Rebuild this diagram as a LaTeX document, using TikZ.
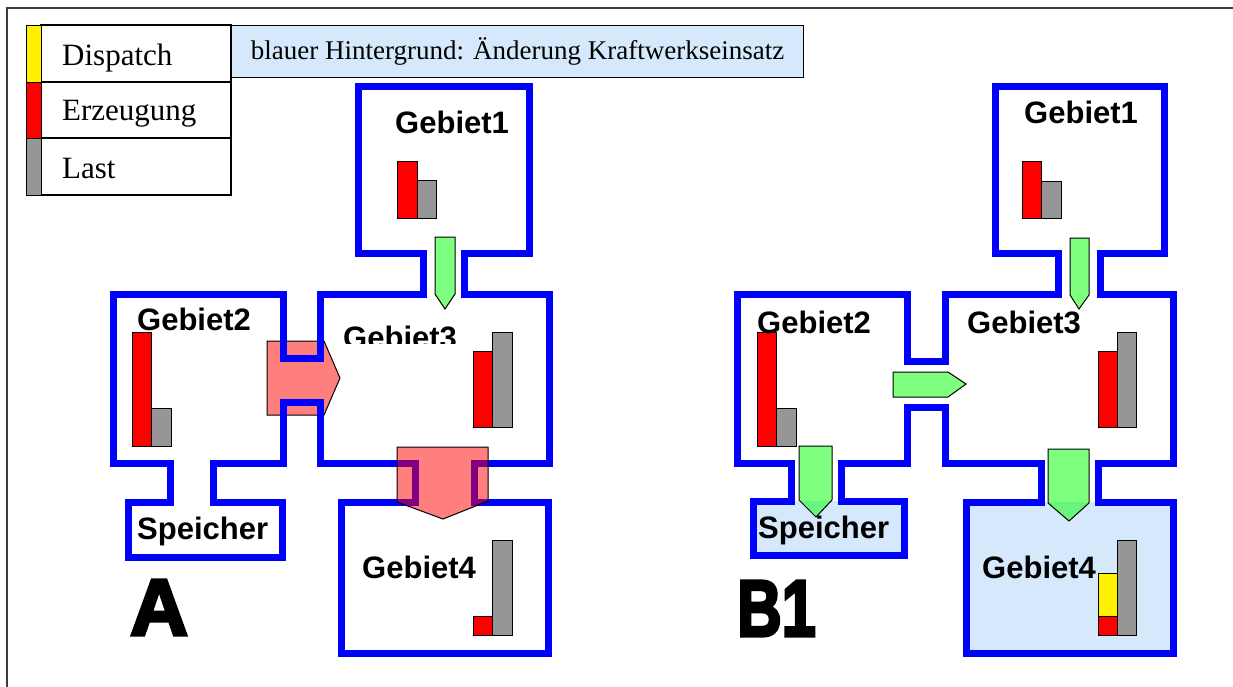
\documentclass[tikz,border=0pt]{standalone}
\usepackage{fontspec}
\usepackage{graphicx}
\setmainfont{Liberation Serif}
\setsansfont{Liberation Sans}
\newfontfamily\heavyfont[FakeBold=4]{Liberation Sans Bold}
\definecolor{zonecol}{RGB}{0, 0, 255}
\definecolor{hintcol}{RGB}{214, 232, 252}
\definecolor{loadcol}{RGB}{150, 150, 150}
\definecolor{framecol}{RGB}{60, 60, 60}
\tikzset{
  zone/.style    = {draw=zonecol, line width=7pt, line join=miter},
  changed/.style = {fill=hintcol},
  bar/.style     = {draw=black, line width=1pt},
  gen/.style     = {bar, fill=red},
  load/.style    = {bar, fill=loadcol},
  disp/.style    = {bar, fill=yellow},
  okflow/.style  = {draw=black, line width=1pt, fill=green, fill opacity=0.5},
  badflow/.style = {draw=black, line width=1pt, fill=red, fill opacity=0.5},
  zname/.style   = {font=\sffamily\bfseries\fontsize{31}{31}\selectfont,
                    inner sep=0pt, anchor=base west},
  legtxt/.style  = {font=\fontsize{31}{31}\selectfont, inner sep=0pt,
                    anchor=base west},
  legrow/.style  = {draw=black, line width=1.2pt},
  hint/.style    = {draw=black, line width=1.2pt, fill=hintcol,
                    font=\fontsize{27}{27}\selectfont, inner sep=0pt},
  casetag/.style = {font=\heavyfont\fontsize{80}{80}\selectfont,
                    inner sep=0pt, anchor=base west},
}

\begin{document}
\begin{tikzpicture}[x=1pt, y=-1pt]
  \useasboundingbox (0,0) rectangle (1233,686);
  \draw[draw=framecol, line width=1.5pt] (7,8) rectangle (1260,710);

  %% ---------------- legend ----------------
  \draw[legrow] (41,25) rectangle (231,82);
  \draw[legrow] (41,82) rectangle (231,138);
  \draw[legrow] (41,138) rectangle (231,195);
  \draw[disp] (26,25) rectangle (41,82);
  \draw[gen]  (26,82) rectangle (41,138);
  \draw[load] (26,138) rectangle (41,195);
  \node[legtxt] (ldisp) at (62,65)  {Dispatch};
  \node[legtxt] (lgen)  at (62,120) {Erzeugung};
  \node[legtxt] (lload) at (62,178) {Last};

  \node[hint, anchor=north west, minimum width=572pt, minimum height=52pt]
       (note) at (231,25) {blauer Hintergrund: Änderung Kraftwerkseinsatz};

  %% ---------------- case A ----------------
  \draw[badflow] (267,341) -- (324,341) -- (340,378) -- (324,415)
                 -- (267,415) -- cycle;

  \draw[zone] (113,294) -- (283,294) -- (283,358) -- (320,358) -- (320,294)
    -- (423,294) -- (423,253) -- (358,253) -- (358,86) -- (529,86)
    -- (529,253) -- (464,253) -- (464,294) -- (549,294) -- (549,463)
    -- (474,463) -- (474,502) -- (548,502) -- (548,653) -- (341,653)
    -- (341,502) -- (415,502) -- (415,463) -- (320,463) -- (320,402)
    -- (283,402) -- (283,463) -- (213,463) -- (213,502) -- (282,502)
    -- (282,557) -- (128,557) -- (128,502) -- (170,502) -- (170,463)
    -- (113,463) -- cycle;

  % bars: Erzeugung left, Last right
  \draw[gen]  (397,161) rectangle (417,218);
  \draw[load] (417,180) rectangle (436,218);
  \draw[gen]  (132,332) rectangle (151,446);
  \draw[load] (151,408) rectangle (171,446);
  \draw[gen]  (473,351) rectangle (492,427);
  \draw[load] (492,332) rectangle (512,427);
  \draw[gen]  (473,616) rectangle (492,635);
  \draw[load] (492,540) rectangle (512,635);

  \node[zname] (a1) at (395,133) {Gebiet1};
  \node[zname] (a2) at (137,330) {Gebiet2};
  \begin{scope}
    \clip (330,300) rectangle (470,343);
    \node[zname] (a3) at (343,348) {Gebiet3};
  \end{scope}
  \node[zname] (a4) at (362,578) {Gebiet4};
  \node[zname] (as) at (137,539) {Speicher};

  \draw[badflow] (397,447) -- (488,447) -- (488,501) -- (443,519)
                 -- (397,502) -- cycle;
  \draw[okflow] (435,237) -- (455,237) -- (455,294) -- (445,309)
                -- (435,294) -- cycle;

  \node[casetag] (tagA) at (130,635) {A};

  %% ---------------- case B1 ----------------
  \fill[changed] (753,501) rectangle (904,555);
  \fill[changed] (966,502) rectangle (1173,653);

  \draw[zone] (737,294) -- (907,294) -- (907,361) -- (945,361) -- (945,294)
    -- (1058,294) -- (1058,253) -- (995,253) -- (995,86) -- (1164,86)
    -- (1164,253) -- (1100,253) -- (1100,294) -- (1173,294) -- (1173,463)
    -- (1098,463) -- (1098,502) -- (1173,502) -- (1173,653) -- (966,653)
    -- (966,502) -- (1041,502) -- (1041,463) -- (945,463) -- (945,407)
    -- (907,407) -- (907,463) -- (841,463) -- (841,501) -- (904,501)
    -- (904,555) -- (753,555) -- (753,501) -- (791,501) -- (791,463)
    -- (737,463) -- cycle;

  \draw[gen]  (1022,161) rectangle (1041,218);
  \draw[load] (1041,181) rectangle (1061,218);
  \draw[gen]  (757,332) rectangle (776,446);
  \draw[load] (776,408) rectangle (796,446);
  \draw[gen]  (1098,351) rectangle (1117,427);
  \draw[load] (1117,332) rectangle (1136,427);
  \draw[gen]  (1098,616) rectangle (1117,635);
  \draw[disp] (1098,573) rectangle (1117,616);
  \draw[load] (1117,540) rectangle (1136,635);

  \draw[okflow] (1070,238) -- (1089,238) -- (1089,295) -- (1079,309)
                -- (1070,295) -- cycle;
  \draw[okflow] (893,372) -- (948,372) -- (966,384) -- (948,397)
                -- (893,397) -- cycle;
  \draw[okflow] (799,446) -- (832,446) -- (832,500) -- (816,517)
                -- (799,500) -- cycle;
  \draw[okflow] (1048,449) -- (1089,449) -- (1089,503) -- (1069,521)
                -- (1048,503) -- cycle;

  \node[zname] (b1) at (1024,123) {Gebiet1};
  \node[zname] (b2) at (757,333)  {Gebiet2};
  \node[zname] (b3) at (967,333)  {Gebiet3};
  \node[zname] (b4) at (982,578)  {Gebiet4};
  \node[zname] (bs) at (758,538)  {Speicher};

  \node[casetag] (tagB) at (737,636) {\scalebox{0.77}[1]{B1}};

\end{tikzpicture}
\end{document}
